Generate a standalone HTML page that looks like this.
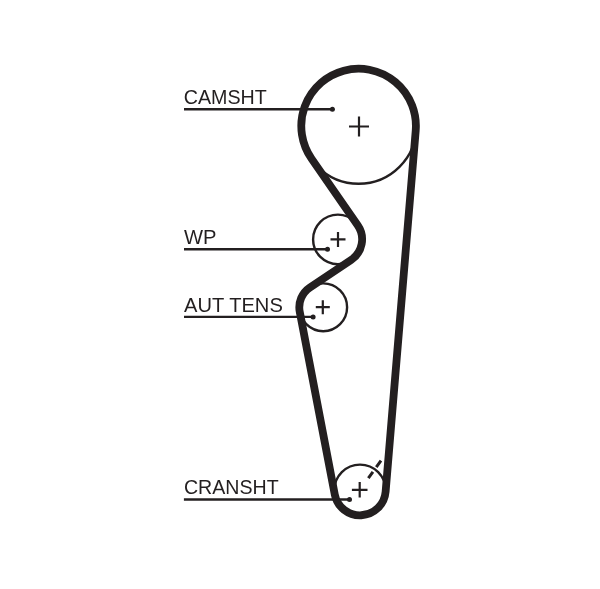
<!DOCTYPE html>
<html><head><meta charset="utf-8"><style>
html,body{margin:0;padding:0;background:#fff;}
svg{display:block;will-change:transform;}
svg text{font-family:"Liberation Sans",sans-serif;fill:#231f20;}
</style></head><body>
<svg width="600" height="589" viewBox="0 0 600 589">
<rect width="600" height="589" fill="#fff"/>
<circle cx="358.6" cy="126.0" r="57.8" stroke="#231f20" stroke-width="2.4" fill="none"/>
<circle cx="337.90000000000003" cy="239.4" r="24.8" stroke="#231f20" stroke-width="2.4" fill="none"/>
<circle cx="323.2" cy="307.3" r="23.9" stroke="#231f20" stroke-width="2.4" fill="none"/>
<circle cx="360.0" cy="490.3" r="25.7" stroke="#231f20" stroke-width="2.4" fill="none"/>
<path d="M 311.50 158.64 A 57.30 57.30 0 1 1 415.70 130.76 L 385.61 491.73 A 25.70 25.70 0 0 1 334.76 494.44 L 299.73 311.80 A 23.90 23.90 0 0 1 309.95 287.41 L 351.05 260.04 A 24.80 24.80 0 0 0 357.68 225.27 Z" stroke="#231f20" stroke-width="7.8" fill="none" stroke-linejoin="round"/>
<path d="M349 126.5H369M359 116.5V136.5" stroke="#231f20" stroke-width="2.2" fill="none"/>
<path d="M330.5 239.4H345.5M338 231.9V246.9" stroke="#231f20" stroke-width="2.2" fill="none"/>
<path d="M315.8 307.2H329.8M322.8 300.2V314.2" stroke="#231f20" stroke-width="2.2" fill="none"/>
<path d="M351.9 489.8H367.5M359.7 482.0V497.6" stroke="#231f20" stroke-width="2.2" fill="none"/>
<line x1="184" y1="109.2" x2="332.4" y2="109.2" stroke="#231f20" stroke-width="2.4"/><circle cx="332.4" cy="109.2" r="2.5" fill="#231f20"/><text x="0" y="104.3" font-size="19.5" transform="translate(183.7 0) scale(1.01 1)">CAMSHT</text>
<line x1="184" y1="249.2" x2="327.5" y2="249.2" stroke="#231f20" stroke-width="2.4"/><circle cx="327.5" cy="249.2" r="2.5" fill="#231f20"/><text x="0" y="243.9" font-size="19.5" transform="translate(184 0) scale(1.035 1)">WP</text>
<line x1="184" y1="316.9" x2="313.1" y2="316.9" stroke="#231f20" stroke-width="2.4"/><circle cx="313.1" cy="316.9" r="2.5" fill="#231f20"/><text x="0" y="311.6" font-size="19.5" transform="translate(184 0) scale(1.033 1)">AUT TENS</text>
<line x1="183.9" y1="499.5" x2="349.5" y2="499.5" stroke="#231f20" stroke-width="2.4"/><circle cx="349.5" cy="499.5" r="2.5" fill="#231f20"/><text x="0" y="493.6" font-size="19.5" transform="translate(183.9 0) scale(1.006 1)">CRANSHT</text>
<path d="M376.28 467.19L380.98 460.72M368.35 478.11L372.93 471.80" stroke="#231f20" stroke-width="3.0" fill="none"/>
</svg>
</body></html>
